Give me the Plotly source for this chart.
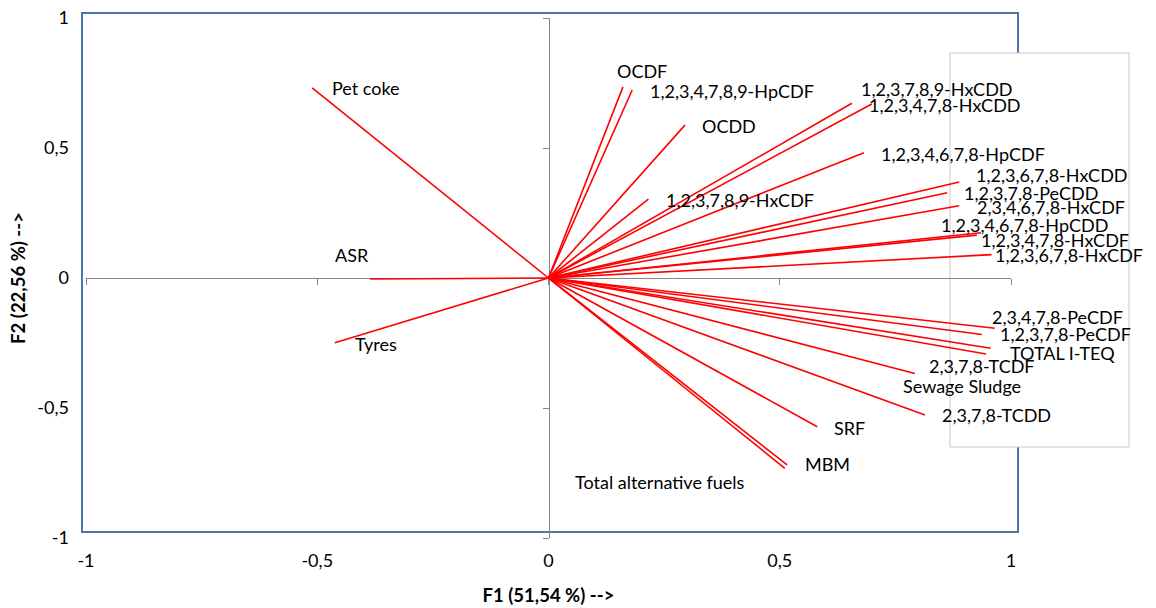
import plotly.graph_objects as go

# ---- data (correlation circle loadings) ----
variables = [
    "Pet coke", "ASR", "Tyres",
    "OCDF", "1,2,3,4,7,8,9-HpCDF", "OCDD", "1,2,3,7,8,9-HxCDF",
    "1,2,3,7,8,9-HxCDD", "1,2,3,4,7,8-HxCDD", "1,2,3,4,6,7,8-HpCDF",
    "1,2,3,6,7,8-HxCDD", "1,2,3,7,8-PeCDD", "2,3,4,6,7,8-HxCDF",
    "1,2,3,4,6,7,8-HpCDD", "1,2,3,4,7,8-HxCDF", "1,2,3,6,7,8-HxCDF",
    "2,3,4,7,8-PeCDF", "1,2,3,7,8-PeCDF", "Sewage Sludge", "TOTAL I-TEQ",
    "2,3,7,8-TCDF", "2,3,7,8-TCDD", "SRF", "MBM", "Total alternative fuels",
]
f1 = [
    -0.511, -0.386, -0.462,
    0.161, 0.181, 0.295, 0.216,
    0.656, 0.699, 0.682,
    0.888, 0.862, 0.888,
    0.935, 0.926, 0.958,
    0.965, 0.937, 0.956, 0.946,
    0.792, 0.814, 0.581, 0.516, 0.511,
]
f2 = [
    0.731, -0.004, -0.249,
    0.735, 0.723, 0.588, 0.303,
    0.672, 0.669, 0.482,
    0.369, 0.328, 0.278,
    0.174, 0.165, 0.090,
    -0.193, -0.217, -0.270, -0.292,
    -0.367, -0.527, -0.572, -0.719, -0.732,
]
tick_vals = [-1, -0.5, 0, 0.5, 1]
tick_text = ["-1", "-0,5", "0", "0,5", "1"]
x_title = "F1 (51,54 %) -->"
y_title = "F2 (22,56 %) -->"

# ---- label placement (pixel offsets from vector tip) ----
label_offsets = {
    "Pet coke": (18, 0), "ASR": (-37, -24), "Tyres": (18, 1),
    "OCDF": (-8, -16), "1,2,3,4,7,8,9-HpCDF": (16, 1), "OCDD": (15, 1),
    "1,2,3,7,8,9-HxCDF": (16, 1), "1,2,3,7,8,9-HxCDD": (7, -14),
    "1,2,3,4,7,8-HxCDD": (-5, 1), "1,2,3,4,6,7,8-HpCDF": (15, 1),
    "1,2,3,6,7,8-HxCDD": (15, -7), "1,2,3,7,8-PeCDD": (15, 0),
    "2,3,4,6,7,8-HxCDF": (16, 1), "1,2,3,4,6,7,8-HpCDD": (-42, -8),
    "1,2,3,4,7,8-HxCDF": (2, 5), "1,2,3,6,7,8-HxCDF": (1, 0),
    "2,3,4,7,8-PeCDF": (-5, -11), "1,2,3,7,8-PeCDF": (16, 0),
    "Sewage Sludge": (-90, 38), "TOTAL I-TEQ": (22, -1),
    "2,3,7,8-TCDF": (12, -7), "2,3,7,8-TCDD": (15, 0),
    "SRF": (15, 1), "MBM": (16, -1), "Total alternative fuels": (-212, 14),
}

FONT = "Lato"
LABEL_SIZE = 18

fig = go.Figure()

xs, ys = [], []
for x, y in zip(f1, f2):
    xs += [0, x, None]
    ys += [0, y, None]
fig.add_trace(go.Scatter(x=xs, y=ys, mode="lines",
                         line=dict(color="#ff0000", width=1.6),
                         hoverinfo="skip", showlegend=False))
# helper trace for the crossing axes
fig.add_trace(go.Scatter(x=[None], y=[None], xaxis="x2", yaxis="y2",
                         showlegend=False, hoverinfo="skip"))

for name, x, y in zip(variables, f1, f2):
    dx, dy = label_offsets[name]
    fig.add_annotation(x=x, y=y, text=name, showarrow=False,
                       xanchor="left", yanchor="middle",
                       xshift=dx, yshift=-dy,
                       font=dict(family=FONT, size=LABEL_SIZE, color="#000000"))

tick_font = dict(family=FONT, size=18, color="#000000")
title_font = dict(family=FONT, size=18.5, color="#000000")
fig.update_layout(
    width=1156, height=608,
    margin=dict(l=86, r=145, t=18, b=70),
    paper_bgcolor="white", plot_bgcolor="rgba(0,0,0,0)",
    showlegend=False,
    xaxis=dict(range=[-1, 1], showgrid=False, zeroline=False, showline=False,
               tickvals=tick_vals, ticktext=tick_text, ticks="",
               tickfont=tick_font, ticklabelstandoff=10, automargin=False,
               title=dict(text="<b>" + x_title + "</b>", font=title_font, standoff=19)),
    yaxis=dict(range=[-1, 1], showgrid=False, zeroline=False, showline=False,
               tickvals=tick_vals, ticktext=tick_text, ticks="",
               tickfont=tick_font, ticklabelstandoff=16, automargin=False,
               title=dict(text="<b>" + y_title + "</b>", font=title_font, standoff=6)),
    xaxis2=dict(range=[-1, 1], overlaying="x", anchor="free", position=0.5,
                showgrid=False, zeroline=False, showline=True,
                linecolor="#868686", linewidth=1, layer="below traces",
                tickvals=tick_vals, ticks="outside", ticklen=6,
                tickcolor="#868686", showticklabels=False),
    yaxis2=dict(range=[-1, 1], overlaying="y", anchor="free", position=0.5,
                side="left", layer="below traces",
                showgrid=False, zeroline=False, showline=True,
                linecolor="#868686", linewidth=1,
                tickvals=tick_vals, ticks="outside", ticklen=6,
                tickcolor="#868686", showticklabels=False),
    shapes=[
        # plot-area frame
        dict(type="rect", xref="paper", yref="paper",
             x0=-0.0043, x1=1.0076, y0=0.0115, y1=1.0096,
             line=dict(color="#4a76a8", width=2), fillcolor="rgba(0,0,0,0)",
             layer="below"),
        # empty legend box
        dict(type="rect", xref="paper", yref="paper",
             x0=0.934, x1=1.1276, y0=0.175, y1=0.9327,
             line=dict(color="#c8c8c8", width=1), fillcolor="white",
             layer="below"),
    ],
)

fig.write_html("out.html", config={"displayModeBar": False},
               post_script="document.body.style.margin='0';")
